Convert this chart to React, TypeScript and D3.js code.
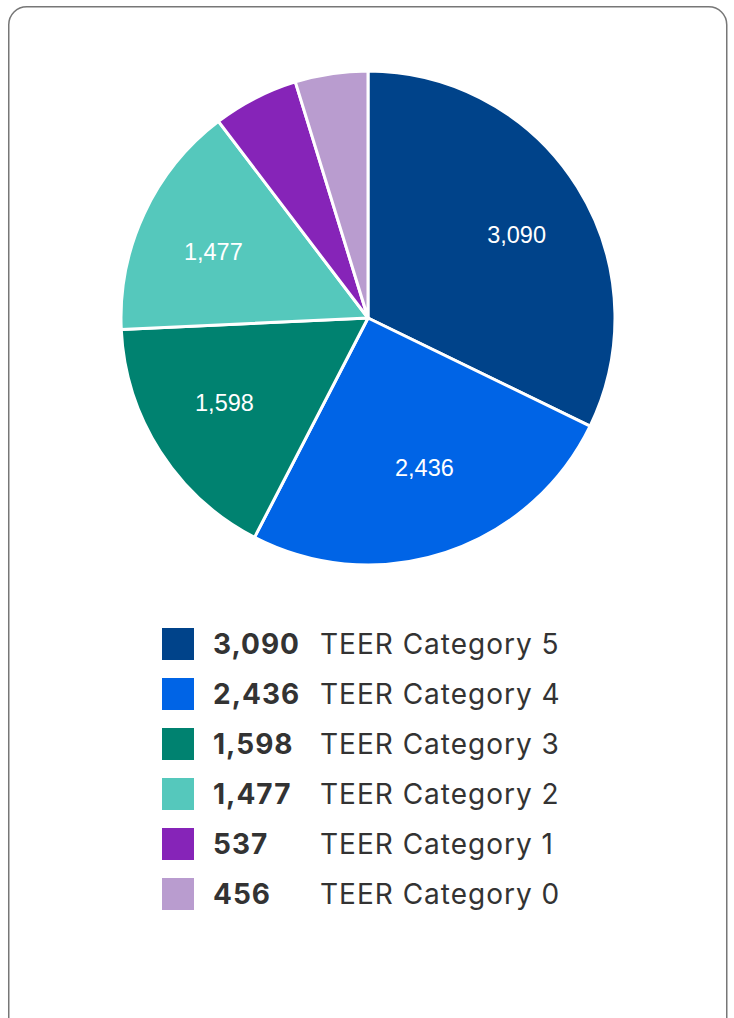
import React from "react";
import * as d3 from "d3";

const categories = [
  "TEER Category 5",
  "TEER Category 4",
  "TEER Category 3",
  "TEER Category 2",
  "TEER Category 1",
  "TEER Category 0",
];
const values = [3090, 2436, 1598, 1477, 537, 456];
const colors = ["#00438a", "#0064e6", "#008270", "#55c8bc", "#8624b8", "#b99ccf"];

const width = 734;
const height = 1018;
const cx = 368;
const cy = 318;
const radius = 247;

const fmt = d3.format(",");

const App = () => {
  const pie = d3
    .pie<number>()
    .sort(null)
    .value((d) => d);
  const arcs = pie(values);
  const arcGen = d3.arc<d3.PieArcDatum<number>>().innerRadius(0).outerRadius(radius);
  const labelArc = d3
    .arc<d3.PieArcDatum<number>>()
    .innerRadius(radius * 0.7)
    .outerRadius(radius * 0.7);

  const legendY = d3
    .scaleBand<string>()
    .domain(categories)
    .range([628, 928])
    .paddingInner(0);

  return (
    <svg
      width={width}
      height={height}
      style={{ position: "absolute", left: 0, top: 0 }}
    >
      <rect
        x={8.75}
        y={6.75}
        width={718}
        height={1030}
        rx={18}
        fill="#fff"
        stroke="#777"
        strokeWidth={1.5}
      />
      <g transform={`translate(${cx}, ${cy})`}>
        {arcs.map((d, i) => (
          <path
            key={i}
            d={arcGen(d) || ""}
            fill={colors[i]}
            stroke="#fff"
            strokeWidth={3}
            strokeLinejoin="round"
          />
        ))}
        {arcs.map((d, i) => {
          if (d.endAngle - d.startAngle < 0.5) return null;
          const [x, y] = labelArc.centroid(d);
          return (
            <text
              key={i}
              x={x + 2}
              y={y * 0.91}
              dy="0.36em"
              textAnchor="middle"
              fill="#fff"
              fontFamily="'Liberation Sans', Arial, sans-serif"
              fontSize={23.5}
            >
              {fmt(d.data)}
            </text>
          );
        })}
      </g>
      <g>
        {categories.map((c, i) => {
          const y = legendY(c) as number;
          return (
            <g key={c} transform={`translate(0, ${y})`}>
              <rect x={162} y={0} width={32} height={32} fill={colors[i]} />
              <text
                x={213}
                y={26}
                fontFamily="Inter, 'Open Sans', sans-serif"
                fontWeight={700}
                fontSize={28}
                letterSpacing={1}
                fill="#333"
              >
                {fmt(values[i])}
              </text>
              <text
                x={320}
                y={26}
                fontFamily="Inter, 'Open Sans', sans-serif"
                fontSize={28}
                letterSpacing={1}
                fill="#333"
              >
                {c}
              </text>
            </g>
          );
        })}
      </g>
    </svg>
  );
};

export default App;
